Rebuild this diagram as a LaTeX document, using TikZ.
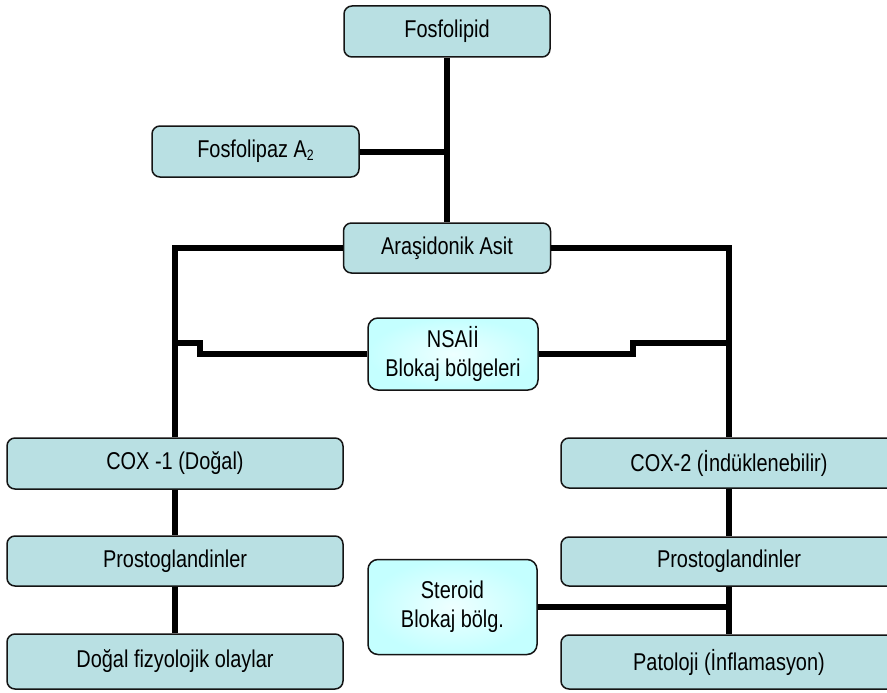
\documentclass[tikz,border=0pt]{standalone}
\usepackage{fontspec}
\setmainfont{Liberation Sans}[FakeStretch=0.82]
\definecolor{boxfill}{RGB}{185,224,227}
\definecolor{boxline}{RGB}{20,20,20}
\definecolor{blkin}{RGB}{238,255,255}
\definecolor{blkout}{RGB}{196,255,255}
\tikzset{
  box/.style={draw=boxline, line width=1.5pt, rounded corners=8pt, fill=boxfill,
    inner sep=0pt, font=\fontsize{24.3}{28}\selectfont, align=center},
  blockbox/.style={draw=boxline, line width=1.5pt, rounded corners=10pt,
    inner color=blkin, outer color=blkout,
    inner sep=0pt, font=\fontsize{24.3}{29}\selectfont, align=center},
  link/.style={line width=6pt, black},
}
\begin{document}
\begin{tikzpicture}[x=1pt,y=-1pt]
\useasboundingbox (0,0) rectangle (887,693);
\clip (0,0) rectangle (887,693);
\coordinate (jl) at (200,343);
\coordinate (jr) at (633,343);
% boxes
\node[box, minimum width=206pt, minimum height=51pt] (fos) at (447,31.5) {Fosfolipid};
\node[box, minimum width=207pt, minimum height=51pt] (fla) at (255.5,151.5) {Fosfolipaz A\raisebox{-0.25ex}{\fontsize{15}{15}\selectfont 2}};
\node[box, minimum width=207pt, minimum height=50pt] (ara) at (447,248) {Araşidonik Asit};
\node[blockbox, minimum width=170pt, minimum height=72pt] (nsa) at (453,354) {NSAİİ\\Blokaj bölgeleri};
\node[box, minimum width=336pt, minimum height=51pt] (cox1) at (175,463.5) {COX -1 (Doğal)};
\node[box, minimum width=336pt, minimum height=50pt] (pro1) at (175,561) {Prostoglandinler};
\node[box, minimum width=336pt, minimum height=55pt] (dog) at (175,661.5) {Doğal fizyolojik olaylar};
\node[box, minimum width=336pt, minimum height=50pt] (cox2) at (729,463) {COX-2 (İndüklenebilir)};
\node[box, minimum width=336pt, minimum height=49pt] (pro2) at (729,561.5) {Prostoglandinler};
\node[box, minimum width=336pt, minimum height=54pt] (pat) at (729,662) {Patoloji (İnflamasyon)};
\node[blockbox, minimum width=169pt, minimum height=95pt] (ste) at (452.5,607) {Steroid\\Blokaj bölg.};
% connectors
\draw[link] (fos.south) -- (ara.north);
\draw[link] (fla.east) -- (fla.east -| fos.south);
\draw[link] (ara.west) -| (cox1.north);
\draw[link] (ara.east) -| (cox2.north);
\draw[link] (nsa.west) -| (jl) -- (jl -| cox1.north);
\draw[link] (nsa.east) -| (jr) -- (jr -| cox2.north);
\draw[link] (cox1.south) -- (pro1.north);
\draw[link] (pro1.south) -- (dog.north);
\draw[link] (cox2.south) -- (pro2.north);
\draw[link] (pro2.south) -- (pat.north);
\draw[link] (ste.east) -- (ste.east -| pat.north);
\end{tikzpicture}
\end{document}
